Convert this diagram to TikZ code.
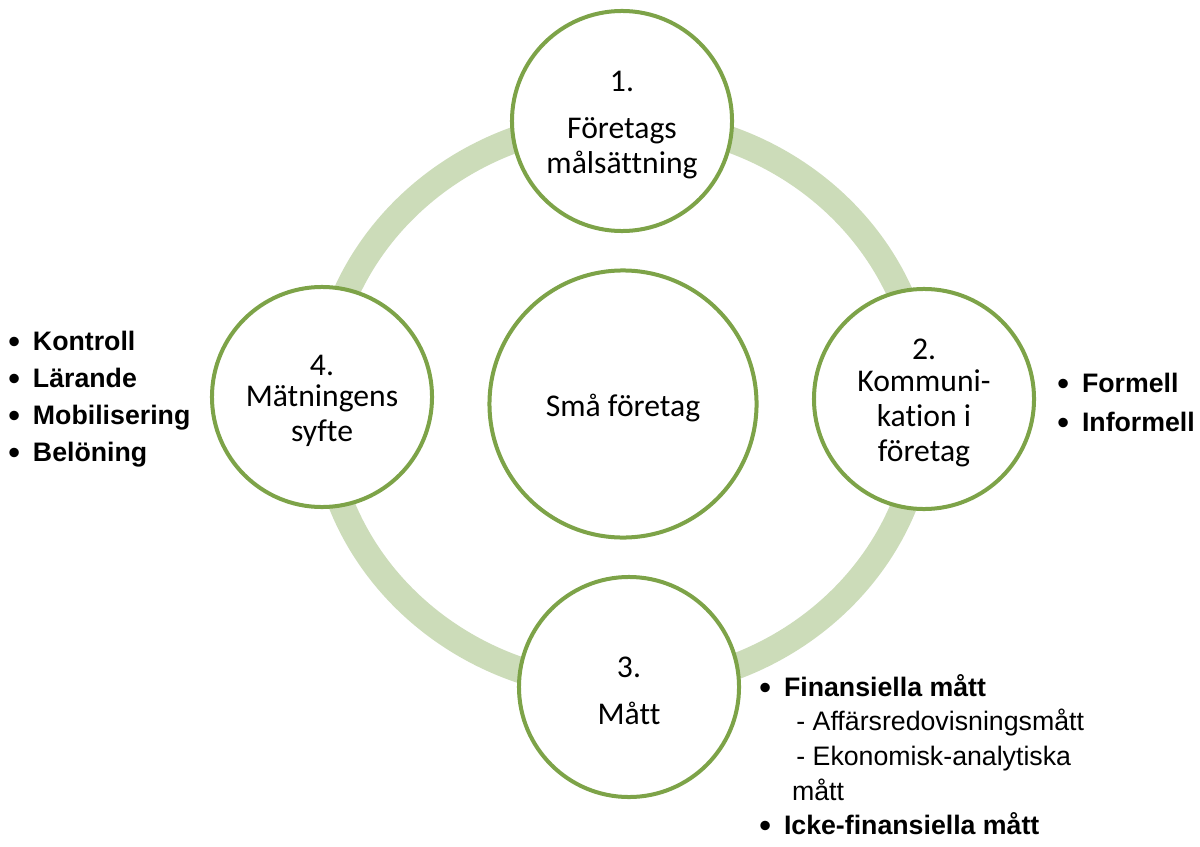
\documentclass[tikz,border=0pt]{standalone}
\usepackage{fontspec}
\setmainfont{Carlito}[Ligatures=NoCommon]
\newfontfamily\bulletfont{Liberation Sans}
\usetikzlibrary{backgrounds}
\definecolor{rimgreen}{RGB}{125,163,72}
\definecolor{ringgreen}{RGB}{204,220,185}
\newcommand{\bitem}[1]{\makebox[0.58cm][l]{\hspace*{-0.04cm}\raisebox{-0.11em}{\scalebox{1.3}{\textbullet}}}\textbf{#1}}
\tikzset{
  stage/.style={circle, draw=rimgreen, fill=white, line width=0.1cm, minimum size=5.5cm, inner sep=0pt},
  hub/.style={stage, minimum size=6.675cm},
  steptext/.style={align=center, inner sep=0pt, yshift=-0.1cm, font=\fontsize{22.5}{24.9}\selectfont},
  ring/.style={draw=ringgreen, line width=0.65cm},
  bullets/.style={anchor=west, align=left, inner sep=0pt, font=\bulletfont\fontsize{19}{#1}\selectfont}
}

\begin{document}
\begin{tikzpicture}[x=0.025cm, y=-0.025cm]
  \useasboundingbox (0,0) rectangle (1200,846);
  % the four steps around the hub
  \node[hub, label={[steptext]center:Små företag}] (small) at (623,404) {};
  \node[stage, label={[steptext]center:{1.\\[0.28cm] Företags\\ målsättning}}] (goal) at (622,121) {};
  \node[stage, label={[steptext]center:{2.\\[-0.075cm] Kommuni-\\ kation i\\ företag}}] (comm) at (924,399) {};
  \node[stage, label={[steptext]center:{3.\\[0.3cm] Mått}}] (measure) at (629,687) {};
  \node[stage, label={[steptext]center:{4.\\[-0.1cm] Mätningens\\ syfte}}] (purpose) at (322,397) {};
  \begin{scope}[on background layer]
    \draw[ring] (small) ellipse [x radius=301, y radius=283];
  \end{scope}
  % bullet lists next to the steps
  \node[bullets=26.3] (purposelist) at (9.5,399) {\bitem{Kontroll}\\ \bitem{Lärande}\\ \bitem{Mobilisering}\\ \bitem{Belöning}};
  \node[bullets=27.7] (commlist) at (1058.5,403.5) {\bitem{Formell}\\ \bitem{Informell}};
  \node[bullets=24.6] (measurelist) at (760.5,756) {\bitem{Finansiella mått}\\ \hspace*{0.89cm}- Affärsredovisningsmått\\ \hspace*{0.89cm}- Ekonomisk-analytiska\\ \hspace*{0.78cm}mått\\ \bitem{Icke-finansiella mått}};
\end{tikzpicture}
\end{document}
